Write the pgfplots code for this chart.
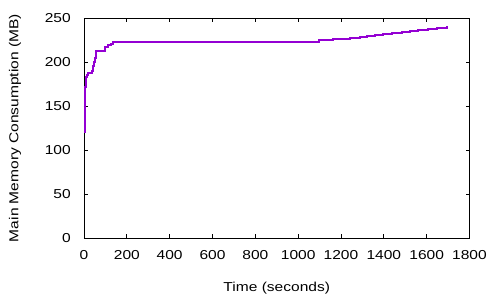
\documentclass[border=0pt]{standalone}
\usepackage{pgfplots}
\pgfplotsset{compat=1.18}
\usepackage{fontspec}
\setmainfont{Liberation Sans}[FakeStretch=1.2]
\definecolor{gpurple}{HTML}{9400D3}
\begin{document}
\begin{tikzpicture}[font=\fontsize{13}{15}\selectfont]
\useasboundingbox (-84bp,-62bp) rectangle (416bp,238bp);
\begin{axis}[
  at={(0,0)}, anchor=south west,
  scale only axis, width=385.5bp, height=220bp,
  xmin=0, xmax=1800, ymin=0, ymax=250,
  xtick={0,200,...,1800}, ytick={0,50,...,250},
  tick align=inside, major tick length=4bp,
  axis line style={line width=0.9bp},
  every tick/.style={black, line width=0.9bp},
  /pgf/number format/assume math mode=true,
  /pgf/number format/1000 sep={},
  xticklabel style={yshift=-9.4bp},
  yticklabel style={xshift=-9.7bp},
  xlabel={Time (seconds)},
  ylabel={Main Memory Consumption (MB)},
  xlabel style={at={(axis description cs:0.5,0)}, anchor=center, yshift=-50bp},
  ylabel style={at={(axis description cs:-0.179,0.5)}, anchor=center},
]
\addplot[const plot, color=gpurple, line width=2bp] coordinates {
(0,121) (4,170) (6,172) (10,183) (12,185) (19,187) (36,190) (43,195)
(48,200) (52,205) (55,212) (59,213) (98,217) (113,219) (125,221) (137,223)
(1098,224.5) (1164,226) (1242,227) (1288,228.5) (1320,230) (1359,231)
(1397,232) (1436,233) (1483,234) (1522,235) (1561,236.5) (1607,237.5)
(1647,238.5) (1693,239.5) (1700,239.5)
};
\end{axis}
\end{tikzpicture}
\end{document}
